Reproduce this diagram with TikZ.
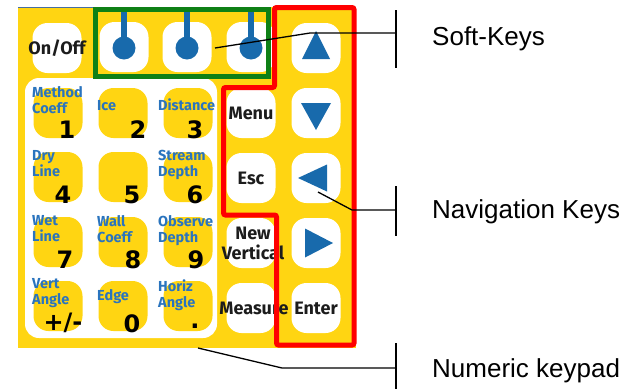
\documentclass[tikz,border=0pt]{standalone}
\usepackage{fontspec}
\setmainfont{Liberation Sans}
\newfontfamily\keyfont{Fira Sans}
\newfontfamily\digitfont{DejaVu Sans}
\usepackage{tikz}
\usetikzlibrary{positioning,calc}
\definecolor{panelyellow}{RGB}{255,213,18}
\definecolor{keyblue}{RGB}{24,106,172}
\definecolor{lblblue}{RGB}{42,116,190}
\definecolor{framegreen}{RGB}{14,128,22}
\definecolor{framered}{RGB}{255,0,0}
\definecolor{keyink}{RGB}{28,28,28}
\definecolor{edgeblue}{RGB}{70,110,160}

\begin{document}
\begin{tikzpicture}[x=1pt,y=-1pt,
  wkey/.style={fill=white,rounded corners=15pt,minimum width=49pt,minimum height=50pt,inner sep=0pt},
  ykey/.style={wkey,fill=panelyellow},
  keytxt/.style={font=\keyfont\bfseries\fontsize{18}{20}\selectfont,text=keyink,inner sep=0pt,align=center},
  digit/.style={font=\digitfont\bfseries\fontsize{24}{24}\selectfont,text=black,inner sep=0pt,anchor=base},
  fnlbl/.style={font=\keyfont\bfseries\fontsize{14.5}{16}\selectfont,text=lblblue,inner sep=0pt,align=left},
  softline/.style={keyblue,line width=6pt},
  leader/.style={black,line width=1.3pt},
  callout/.style={font=\fontsize{26}{30}\selectfont,anchor=base west,inner sep=0pt}]
  \useasboundingbox (0,0) rectangle (635,389); % 画像全体の範囲
  \fill[panelyellow] (18,7) rectangle (356,348); % 黄色の操作パネル
  \draw[edgeblue,line width=1pt] (18,7.5) -- (95,7.5); % パネル上端の細い線
  \fill[white,rounded corners=14pt] (25,78) rectangle (217,338); % テンキーの白い台

  \node[wkey] (onoff) at (57,48) {}; % 電源キー
  \node[wkey] (soft1) at (124,47) {}; % 1つ目のソフトキー
  \node[wkey] (soft2) at (187,47) {}; % 2つ目のソフトキー
  \node[wkey] (soft3) at (251,47) {}; % 3つ目のソフトキー
  \node[wkey] (up) at (316,48) {}; % 上矢印キー
  \node[wkey] (menu) at (251,113) {}; % メニューキー
  \node[wkey] (down) at (316,113) {}; % 下矢印キー
  \node[wkey] (esc) at (251,178) {}; % エスケープキー
  \node[wkey] (left) at (316,178) {}; % 左矢印キー
  \node[wkey] (newvert) at (251,243) {}; % 新しい測線キー
  \node[wkey] (right) at (316,243) {}; % 右矢印キー
  \node[wkey] (measure) at (251,308) {}; % 測定キー
  \node[wkey] (enter) at (316,308) {}; % 決定キー

  \node[ykey] (k1) at (58,113) {}; % テンキー1
  \node[ykey] (k2) at (123,113) {}; % テンキー2
  \node[ykey] (k3) at (188,113) {}; % テンキー3
  \node[ykey] (k4) at (58,177) {}; % テンキー4
  \node[ykey] (k5) at (123,177) {}; % テンキー5
  \node[ykey] (k6) at (188,177) {}; % テンキー6
  \node[ykey] (k7) at (58,242) {}; % テンキー7
  \node[ykey] (k8) at (123,242) {}; % テンキー8
  \node[ykey] (k9) at (188,242) {}; % テンキー9
  \node[ykey] (kpm) at (58,306) {}; % 符号キー
  \node[ykey] (k0) at (123,306) {}; % テンキー0
  \node[ykey] (kdot) at (188,306) {}; % 小数点キー

  \node[digit] (d1) at (67,138) {1}; % 数字1
  \node[digit] (d2) at (138,138) {2}; % 数字2
  \node[digit] (d3) at (195,138) {3}; % 数字3
  \node[digit] (d4) at (63,203) {4}; % 数字4
  \node[digit] (d5) at (132,203) {5}; % 数字5
  \node[digit] (d6) at (195,203) {6}; % 数字6
  \node[digit] (d7) at (65,268) {7}; % 数字7
  \node[digit] (d8) at (133,268) {8}; % 数字8
  \node[digit] (d9) at (196,268) {9}; % 数字9
  \node[digit] (dpm) at (63,330) {+/-}; % 符号
  \node[digit] (d0) at (132,332) {0}; % 数字0
  \node[digit] (ddot) at (195,328) {.}; % 小数点

  \node[fnlbl,anchor=north west] (l1) at (32,86) {Method\\Coeff}; % 1の機能名
  \node[fnlbl,anchor=base west] (l2) at (97,110) {Ice}; % 2の機能名
  \node[fnlbl,anchor=base west] (l3) at (158,110) {Distance}; % 3の機能名
  \node[fnlbl,anchor=north west] (l4) at (32,150) {Dry\\Line}; % 4の機能名
  \node[fnlbl,anchor=north west] (l6) at (158,150) {Stream\\Depth}; % 6の機能名
  \node[fnlbl,anchor=north west] (l7) at (32,215) {Wet\\Line}; % 7の機能名
  \node[fnlbl,anchor=north west] (l8) at (97,215) {Wall\\Coeff}; % 8の機能名
  \node[fnlbl,anchor=north west] (l9) at (158,215) {Observe\\Depth}; % 9の機能名
  \node[fnlbl,anchor=north west] (lpm) at (32,278) {Vert\\Angle}; % 符号キーの機能名
  \node[fnlbl,anchor=base west] (l0) at (97,300) {Edge}; % 0の機能名
  \node[fnlbl,anchor=north west] (ldot) at (158,280) {Horiz\\Angle}; % 小数点キーの機能名

  \node[keytxt] (onofftxt) at (onoff) {On/Off}; % 電源キーの文字
  \node[keytxt] (menutxt) at (menu) {Menu}; % メニューの文字
  \node[keytxt] (esctxt) at (esc) {Esc}; % エスケープの文字
  \node[keytxt] (newverttxt) at ($(newvert)+(2,0)$) {New\\Vertical}; % 新しい測線の文字
  \node[keytxt] (measuretxt) at ($(measure)+(3,0)$) {Measure}; % 測定の文字
  \node[keytxt] (entertxt) at (enter) {Enter}; % 決定の文字

  \draw[softline] ($(soft1)+(0,-40)$) -- (soft1.center); % ソフトキー1の線
  \draw[softline] ($(soft2)+(0,-40)$) -- (soft2.center); % ソフトキー2の線
  \draw[softline] ($(soft3)+(0,-40)$) -- (soft3.center); % ソフトキー3の線
  \fill[keyblue] ($(soft1)+(0,1)$) circle (11.5pt); % ソフトキー1の丸
  \fill[keyblue] ($(soft2)+(0,1)$) circle (11.5pt); % ソフトキー2の丸
  \fill[keyblue] ($(soft3)+(0,1)$) circle (11.5pt); % ソフトキー3の丸

  \fill[keyblue] ($(up)+(-14,11)$) -- ($(up)+(14,11)$) -- ($(up)+(0,-17)$) -- cycle; % 上向きの三角
  \fill[keyblue] ($(down)+(-15,-10)$) -- ($(down)+(15,-10)$) -- ($(down)+(0,17)$) -- cycle; % 下向きの三角
  \fill[keyblue] ($(left)+(-18,0)$) -- ($(left)+(11,-13.5)$) -- ($(left)+(11,13.5)$) -- cycle; % 左向きの三角
  \fill[keyblue] ($(right)+(-11,-14.5)$) -- ($(right)+(-11,14.5)$) -- ($(right)+(17,0)$) -- cycle; % 右向きの三角

  \draw[framegreen,line width=5pt] (95.5,9.5) rectangle (268,76); % ソフトキーを囲む緑の枠
  \draw[framered,line width=5pt,rounded corners=2pt] (274.5,7.5) -- (354,7.5) -- (354,345) -- (276.5,345) -- (276.5,215) -- (223.5,215) -- (223.5,87.5) -- (274.5,87.5) -- cycle; % 移動キーを囲む赤い枠

  \coordinate (softtip) at (215,48); % ソフトキー側の端
  \coordinate (softbend) at (310,33); % 折れ点
  \coordinate (softbar) at (396,33); % 縦線との交点
  \coordinate (navtip) at (318,192); % 移動キー側の端
  \coordinate (navbend) at (352,210); % 折れ点
  \coordinate (navbar) at (396,210); % 縦線との交点
  \coordinate (numtip) at (198,348); % テンキー側の端
  \coordinate (numbend) at (282,368); % 折れ点
  \coordinate (numbar) at (396,368); % 縦線との交点
  \draw[leader] (softtip) -- (softbend) -- (softbar); % ソフトキーの引き出し線
  \draw[leader] (navtip) -- (navbend) -- (navbar); % 移動キーの引き出し線
  \draw[leader] (numtip) -- (numbend) -- (numbar); % テンキーの引き出し線
  \draw[leader] ($(softbar)+(0,-23)$) -- ($(softbar)+(0,35)$); % ソフトキーの縦線
  \draw[leader] ($(navbar)+(0,-24)$) -- ($(navbar)+(0,26)$); % 移動キーの縦線
  \draw[leader] ($(numbar)+(0,-25)$) -- ($(numbar)+(0,21)$); % テンキーの縦線

  \node[callout] (softlbl) at (432,45) {Soft-Keys}; % ソフトキーの説明
  \node[callout] (navlbl) at (432,218) {Navigation Keys}; % 移動キーの説明
  \node[callout] (numlbl) at (432,377) {Numeric keypad}; % テンキーの説明
\end{tikzpicture}
\end{document}
